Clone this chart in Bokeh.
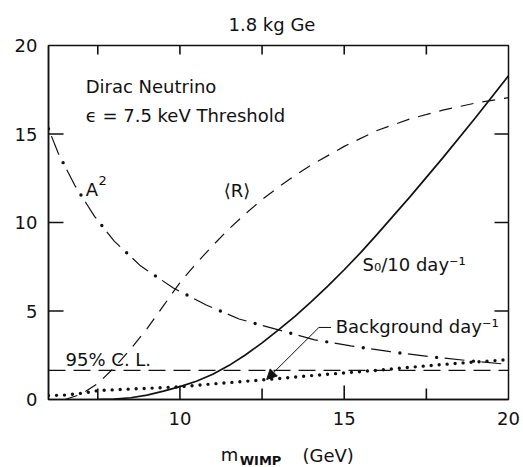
from bokeh.plotting import figure
from bokeh.layouts import column
from bokeh.models import (Range1d, FixedTicker, Label, Arrow, NormalHead, Span)
from bokeh.embed import file_html
from bokeh.resources import INLINE

# WIMP mass (GeV) grids and curve values
r_mass = [6.5, 7.0, 7.5, 8.0, 8.5, 9.0, 9.5, 10.0, 10.5, 11.0, 11.5, 12.0,
          12.5, 13.0, 13.5, 14.0, 15.0, 16.0, 17.0, 18.0, 19.0, 20.0]
r_rate = [0.0, 0.3, 0.9, 1.8, 2.85, 4.0, 5.3, 6.6, 7.7, 8.7, 9.65, 10.5,
          11.3, 12.0, 12.65, 13.25, 14.3, 15.2, 15.85, 16.35, 16.75, 17.05]

a2_mass = [6.0, 6.3, 6.8, 7.4, 8.0, 8.8, 9.8, 10.8, 11.8, 13.0, 14.1,
           15.2, 16.4, 17.6, 18.8, 20.0]
a2_val = [15.3, 13.9, 12.1, 10.35, 8.95, 7.55, 6.3, 5.34, 4.55, 3.93, 3.37,
          3.03, 2.7, 2.42, 2.19, 1.98]

s0_mass = [7.5, 8.0, 8.5, 9.0, 9.5, 10.0, 10.5, 11.0, 11.5, 12.0, 12.5,
           13.0, 13.5, 14.0, 14.5, 15.0, 15.5, 16.0, 17.0, 18.0, 19.0, 20.0]
s0_rate = [0.0, 0.02, 0.1, 0.25, 0.47, 0.73, 1.03, 1.43, 1.93, 2.53, 3.2,
           3.93, 4.7, 5.53, 6.4, 7.33, 8.3, 9.33, 11.45, 13.65, 15.93, 18.29]

bg_mass = [6.0, 6.5, 7.0, 7.5, 8.0, 9.0, 10.0, 11.0, 12.0, 13.0, 14.0,
           15.0, 16.0, 17.0, 18.0, 19.0, 20.0]
bg_rate = [0.22, 0.25, 0.35, 0.5, 0.55, 0.63, 0.72, 0.88, 1.03, 1.18, 1.35,
           1.5, 1.65, 1.82, 1.98, 2.12, 2.25]

cl_level = 1.65  # 95% C.L.

x_range = (6, 20)
y_range = (0, 20)
x_major = [10, 15, 20]
x_minor = [7.5, 12.5, 17.5]
y_major = [0, 5, 10, 15, 20]
top_ticks = [7.5, 10, 12.5, 15, 17.5]
right_ticks = [5, 10, 15]

FONT = "DejaVu Sans"
INK = "#111111"

FRAME_W, FRAME_H = 460, 355
p = figure(width=523, height=440, x_range=Range1d(*x_range), y_range=Range1d(*y_range),
           output_backend="svg", toolbar_location=None,
           min_border_left=48, min_border_right=15, min_border_top=44,
           min_border_bottom=41, background_fill_color="white",
           border_fill_color="white")
p.grid.visible = False
p.outline_line_color = INK
p.outline_line_width = 1.5

p.title.text = "1.8 kg Ge"
p.title.align = "left"
p.title.offset = 180
p.title.standoff = 22
p.title.text_font = FONT
p.title.text_font_size = "18px"
p.title.text_font_style = "normal"
p.title.text_color = INK

# bottom axis: labels only, ticks are drawn inward below
xa = p.xaxis[0]
xa.ticker = FixedTicker(ticks=x_major, minor_ticks=x_minor)
xa.major_tick_in = 0
xa.major_tick_out = 0
xa.minor_tick_in = 0
xa.minor_tick_out = 0
xa.major_label_standoff = 12
xa.major_label_text_font = FONT
xa.major_label_text_font_size = "18px"
xa.major_label_text_color = INK
xa.axis_line_color = INK
xa.axis_line_width = 1.5

# left axis
ya = p.yaxis[0]
ya.ticker = FixedTicker(ticks=y_major, minor_ticks=[])
ya.major_tick_in = 0
ya.major_tick_out = 0
ya.minor_tick_in = 0
ya.minor_tick_out = 0
ya.major_label_standoff = 11
ya.major_label_text_font = FONT
ya.major_label_text_font_size = "18px"
ya.major_label_text_color = INK
ya.axis_line_color = INK
ya.axis_line_width = 1.5

# inward tick marks on all four sides, lengths given in pixels
dx = (x_range[1] - x_range[0]) / FRAME_W   # data units per pixel
dy = (y_range[1] - y_range[0]) / FRAME_H


def xticks(xs, y0, length_px):
    for x in xs:
        p.line([x, x], [y0, y0 + length_px * dy], line_color=INK, line_width=1.6)


def yticks(ys, x0, length_px):
    for y in ys:
        p.line([x0, x0 + length_px * dx], [y, y], line_color=INK, line_width=1.6)


xticks(x_major[:-1], y_range[0], 14)
xticks(x_minor, y_range[0], 11)
xticks(top_ticks, y_range[1], -9)
yticks(y_major[1:-1], x_range[0], 15)
yticks(right_ticks, x_range[1], -14)

# 95% C.L. level
p.add_layout(Span(location=cl_level, dimension="width", line_color=INK,
                  line_width=1.2, line_dash="17 8"))

# <R> dashed
p.line(r_mass, r_rate, line_color=INK, line_width=1.2, line_dash="13 9")

# A^2 dash-dot: dashes plus round dots in the gaps
p.line(a2_mass, a2_val, line_color=INK, line_width=1.2, line_dash="0 8 20 9")
p.line(a2_mass, a2_val, line_color=INK, line_width=3.4, line_dash="0 37",
       line_cap="round")

# S0/10 solid
p.line(s0_mass, s0_rate, line_color=INK, line_width=1.7)

# background dotted
p.line(bg_mass, bg_rate, line_color=INK, line_width=3.4, line_dash="0 8",
       line_cap="round")

# leader line and arrow to the background curve
p.line([14.23, 14.6], [4.07, 4.07], line_color=INK, line_width=1)
p.add_layout(Arrow(end=NormalHead(size=10, fill_color=INK, line_color=INK, line_width=1),
                   x_start=14.23, y_start=4.07, x_end=12.64, y_end=1.13,
                   line_color=INK, line_width=1))


def label(fig, x, y, text, size="18px", align="left", style="normal", baseline="middle"):
    fig.add_layout(Label(x=x, y=y, text=text, text_font=FONT, text_font_size=size,
                         text_color=INK, text_align=align, text_baseline=baseline,
                         text_font_style=style))


label(p, 7.13, 17.7, "Dirac Neutrino")
label(p, 7.13, 16.05, "ϵ = 7.5 keV  Threshold")
label(p, 7.13, 11.85, "A")
label(p, 7.52, 12.35, "2", size="13px")
label(p, 11.33, 11.8, "⟨R⟩")
label(p, 15.56, 7.6, "S₀/10 day⁻¹")
label(p, 14.74, 4.15, "Background  day⁻¹")
label(p, 6.52, 2.25, "95%  C. L.", size="18px")

# strip under the plot carrying the x axis title: m with bold WIMP subscript
strip = figure(width=523, height=27, x_range=p.x_range, y_range=Range1d(0, 27),
               output_backend="svg", toolbar_location=None,
               x_axis_location=None, y_axis_location=None,
               min_border_left=48, min_border_right=15, min_border_top=0,
               min_border_bottom=0, outline_line_color=None,
               background_fill_color="white", border_fill_color="white")
strip.grid.visible = False
label(strip, 11.24, 13, "m")
label(strip, 11.82, 7, "WIMP", size="13px", style="bold")
label(strip, 13.73, 12, "(GeV)")

layout = column(p, strip, spacing=0)
open("out.html", "w").write(file_html(layout, INLINE))
